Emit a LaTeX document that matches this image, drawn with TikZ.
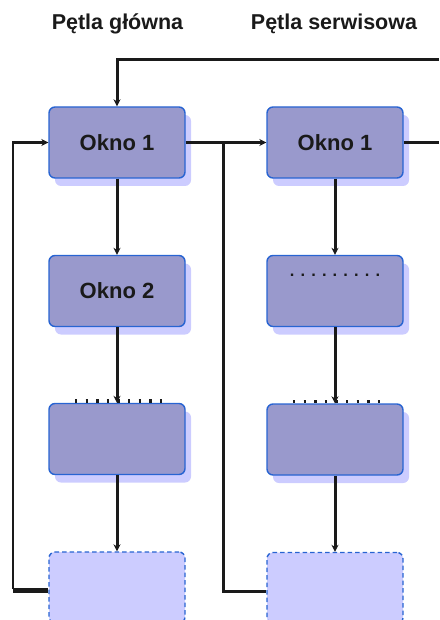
\documentclass[tikz,border=0pt]{standalone}
\usepackage{fontspec}
\setmainfont{Liberation Sans}
\usetikzlibrary{arrows.meta,shadows,calc}
\definecolor{boxfill}{RGB}{153,153,204}
\definecolor{boxedge}{RGB}{40,100,210}
\definecolor{shadowc}{RGB}{204,204,255}
\definecolor{ghostfill}{RGB}{204,204,255}
\definecolor{linec}{RGB}{26,26,26}
\begin{document}
\begin{tikzpicture}[x=1pt,y=-1pt,
  winbox/.style={draw=boxedge, line width=1.4pt, fill=boxfill, rounded corners=6pt,
    minimum width=136pt, minimum height=71pt, inner sep=0pt,
    font=\fontsize{22}{26}\selectfont\bfseries, text=linec,
    drop shadow={shadow xshift=6pt, shadow yshift=-8pt, fill=shadowc, opacity=1}},
  ghostbox/.style={draw=boxedge, line width=1.4pt, fill=ghostfill, rounded corners=6pt,
    dash pattern=on 4.5pt off 3pt, minimum width=136pt, minimum height=71pt, inner sep=0pt},
  conn/.style={draw=linec, line width=3pt, -{Stealth[length=7pt,width=7pt]}},
  plain/.style={draw=linec, line width=3pt},
  ttl/.style={font=\fontsize{21.5}{26}\selectfont\bfseries, text=linec, anchor=base},
  tickline/.style={draw=linec, line width=3.5pt, dash pattern=on 2.3pt off 8.3pt},
  dots/.style={font=\fontsize{16.5}{20}\selectfont\bfseries, text=linec}
]
\useasboundingbox (0,0) rectangle (439,620);

% titles
\node[ttl] (t1) at (117.5,30) {Pętla główna};
\node[ttl] (t2) at (334,30) {Pętla serwisowa};

% left column
\node[winbox] (L1) at (117,142.5) {Okno 1};
\node[winbox] (L2) at (117,291) {Okno 2};
\node[winbox] (L3) at (117,439) {};
\node[ghostbox] (L4) at (117,587.5) {};

% right column
\node[winbox] (R1) at (335,142.5) {Okno 1};
\node[winbox] (R2) at (335,291) {};
\node[winbox] (R3) at (335,439.5) {};
\node[ghostbox] (R4) at (335,588) {};

% dotted text in R2
\node[dots] (d2) at (335,275) {. . . . . . . . .};

% tick rows on top of the third boxes
\draw[tickline] ($(L3.north)+(-42,-2)$) -- ($(L3.north)+(48,-2)$);
\draw[tickline] ($(R3.north)+(-42,-2)$) -- ($(R3.north)+(48,-2)$);

% vertical flow
\draw[conn] (L1.south) -- (L2.north);
\draw[conn] (L2.south) -- (L3.north);
\draw[conn] (L3.south) -- (L4.north);
\draw[conn] (R1.south) -- (R2.north);
\draw[conn] (R2.south) -- (R3.north);
\draw[conn] (R3.south) -- (R4.north);

% helper coordinates
\coordinate (jx) at (223,0);
\coordinate (lx) at (13,0);
\coordinate (top) at (439,60);
\coordinate (rx) at (439,0);

% main -> service
\draw[conn] (L1.east) -- (R1.west);
\draw[plain] (jx |- L1.east) |- ($(R4.west)+(0,3)$);

% main loop back
\draw[plain, line width=4.2pt] ($(L4.west)+(0,3)$) -- (lx |- {$(L4.west)+(0,3)$});
\draw[conn, line width=2.2pt] (lx |- {$(L4.west)+(0,1.5)$}) |- (L1.west);

% return from the right
\draw[conn] (top) -| (L1.north);
\draw[plain] (R1.east) -- (R1.east -| rx);
\end{tikzpicture}
\end{document}
